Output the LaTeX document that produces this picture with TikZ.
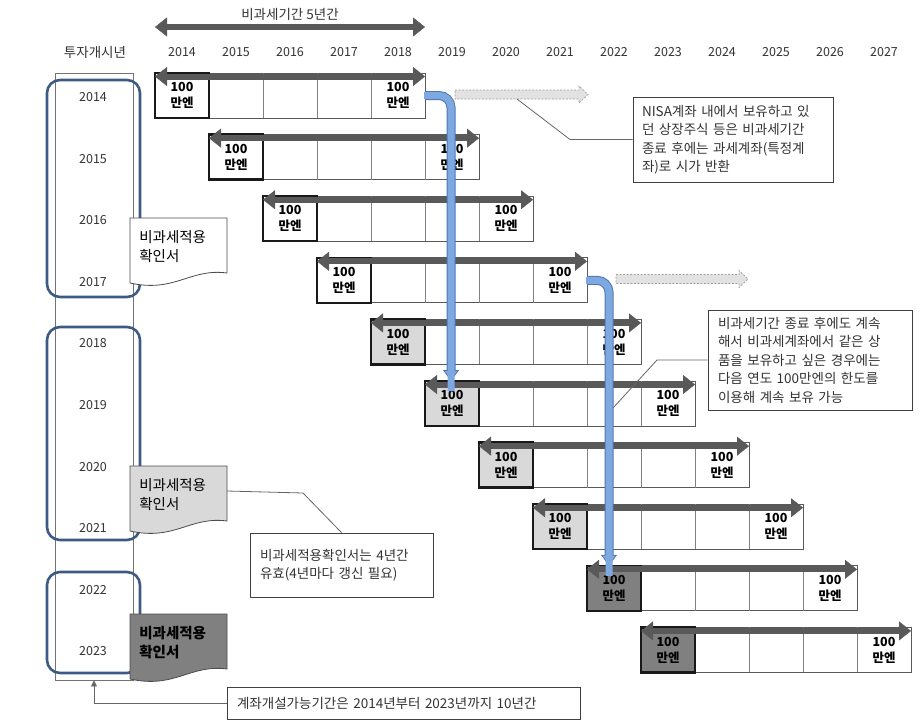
\documentclass[tikz,border=0pt]{standalone}
\usepackage{fontspec}
\setmainfont{Noto Sans CJK KR}
\usetikzlibrary{arrows.meta,calc}

\definecolor{arrowgray}{HTML}{595959}
\definecolor{cellgray}{HTML}{D9D9D9}
\definecolor{darkcell}{HTML}{808080}
\definecolor{bluefill}{RGB}{125,168,224}
\definecolor{blueedge}{RGB}{78,118,178}
\definecolor{groupblue}{RGB}{60,90,132}
\definecolor{dashfill}{HTML}{E2E2E2}
\definecolor{dashedge}{HTML}{A0A0A0}
\definecolor{txt}{HTML}{333333}

\newcommand{\jl}[2]{\makebox[#1][s]{#2}}

\tikzset{every picture/.style={line width=0.75pt}}

\begin{document}
\begin{tikzpicture}[x=1pt,y=1pt,yscale=-1,
  hd/.style={font=\fontsize{13.5}{15}\selectfont, text=txt, inner sep=0},
  yr/.style={font=\fontsize{12.5}{14}\selectfont, text=txt, inner sep=0},
  firstcell/.style={draw=black!90, line width=2.4pt, minimum width=54pt, minimum height=45pt, inner sep=0, outer sep=0, anchor=north west, align=center, font=\bfseries\fontsize{12.5}{16}\selectfont},
  lastcell/.style={minimum width=54pt, minimum height=45pt, inner sep=0, outer sep=0, anchor=north west, align=center, font=\bfseries\fontsize{12.5}{16}\selectfont},
  rowline/.style={draw=black!65, line width=0.9pt},
  cellline/.style={draw=black!50, line width=0.8pt},
  yarrow/.style={arrowgray, line width=6pt, {Triangle[length=12pt,width=19pt,line width=0.4pt]}-{Triangle[length=12pt,width=19pt,line width=0.4pt]}},
  group/.style={draw=groupblue, line width=2.6pt, rounded corners=13pt},
  colbox/.style={draw=black!55, line width=0.9pt, minimum width=78pt, minimum height=607pt, inner sep=0},
  callout/.style={draw=black!75, line width=0.9pt, fill=white, align=left, text=txt, font=\fontsize{13.5}{18.5}\selectfont, inner xsep=10pt, inner ysep=3pt},
  leader/.style={draw=black!60, line width=0.8pt},
  docshape/.style={draw=black!70, line width=0.8pt},
  doctext/.style={font=\fontsize{14.5}{19}\selectfont, align=left, anchor=west, inner sep=0},
  dasharrow/.style={fill=dashfill, draw=dashedge, dash pattern=on 2pt off 1.5pt, line width=0.7pt},
  bluebody/.style={blueedge, line width=9pt, rounded corners=12pt, -{Triangle[length=11pt,width=16pt,line width=0.8pt,fill=bluefill]}},
  bluecore/.style={bluefill, line width=7pt, rounded corners=12pt}]
\path[use as bounding box] (0,0) rectangle (920,721);

% Header
\node[hd] (ttl) at (290,14) {비과세기간 5년간};
\coordinate (ha) at (155,27);
\coordinate (hb) at (425,27);
\draw[yarrow] (ha) -- (hb);
\node[hd] (inv) at (95,52) {투자개시년};
\foreach \i in {0,...,13}{
  \pgfmathtruncatemacro\yy{2014+\i}
  \node[yr] (y\i) at ({182+54*\i},52) {\yy};
}

% Left column of start years
\node[colbox] (col) at (94,376.5) {};
\foreach \i in {0,...,9}{
  \pgfmathtruncatemacro\yy{2014+\i}
  \node[yr] (ly\i) at (93,{97+61.6*\i}) {\yy};
}
\draw[group] (47,80) rectangle (140,297);
\draw[group] (47,327) rectangle (140,540);
\draw[group] (47,572) rectangle (140,673);

% Documents
\foreach \i/\ty/\fc/\ft in {1/218/white/, 2/466/cellgray/, 3/614/darkcell/\bfseries}{
  \filldraw[docshape, fill=\fc] (130,\ty) -- (227,\ty) -- (227,{\ty+55})
    .. controls (190,{\ty+50}) and (175,{\ty+75}) .. (130,{\ty+65}) -- cycle;
  \node[doctext] (d\i) at (139,{\ty+29}) {\ft 비과세적용\\\ft 확인서};
}

% Rows
\foreach \k/\fc in {0/white,1/white,2/white,3/white,4/cellgray,5/cellgray,6/cellgray,7/cellgray,8/darkcell,9/darkcell}{
  \pgfmathsetmacro\xk{155+54*\k}
  \pgfmathsetmacro\yk{73+61.6*\k}
  \coordinate (o\k) at (\xk,\yk);
  \draw[rowline, fill=white] (o\k) rectangle ++(270,45);
  \foreach \c in {108,162,216}
    \draw[cellline] ([xshift=\c pt]o\k) -- ++(0,45);
  \node[firstcell, fill=\fc] (f\k) at (o\k) {\rule{0pt}{6pt}100\\만엔};
  \node[lastcell] (l\k) at ([xshift=216pt]o\k) {\rule{0pt}{6pt}100\\만엔};
  \draw[yarrow] ([yshift=3.5pt]f\k.north west) -- ([yshift=3.5pt]l\k.north east);
}

% Dashed arrows
\foreach \xa/\xb/\yc in {455/588/94.5, 616/748/279}{
  \filldraw[dasharrow] (\xa,{\yc-4.5}) -- ({\xb-9},{\yc-4.5}) -- ({\xb-9},{\yc-8.5}) -- (\xb,\yc)
    -- ({\xb-9},{\yc+8.5}) -- ({\xb-9},{\yc+4.5}) -- (\xa,{\yc+4.5}) -- cycle;
}

% Callouts
\node[callout, text width=182pt, inner xsep=9pt, minimum height=85pt] (c1) at (733,139.5)
  {\jl{182pt}{NISA계좌 내에서 보유하고 있}\\\jl{182pt}{던 상장주식 등은 비과세기간}\\\jl{182pt}{종료 후에는 과세계좌(특정계}\\좌)로 시가 반환};
\node[callout, text width=184pt, minimum height=100pt] (c2) at (810,360)
  {\jl{184pt}{비과세기간 종료 후에도 계속}\\\jl{184pt}{해서 비과세계좌에서 같은 상}\\\jl{184pt}{품을 보유하고 싶은 경우에는}\\\jl{184pt}{다음 연도 100만엔의 한도를}\\이용해 계속 보유 가능};
\node[callout, text width=163pt, minimum height=64pt] (c3) at (341.5,565)
  {비과세적용확인서는 4년간\\유효(4년마다 갱신 필요)};
\node[callout, text width=333pt, minimum height=32pt] (c4) at (403.5,703)
  {계좌개설가능기간은 2014년부터 2023년까지 10년간};

% Leaders
\coordinate (c1k) at (570,139.5);
\coordinate (c1e) at (517,99);
\draw[leader] (c1.west) -- (c1k) -- (c1e);
\coordinate (c2k) at (657,360);
\coordinate (c2e) at (613,408);
\draw[leader] (c2.west) -- (c2k) -- (c2e);
\coordinate (d2e) at (227,491);
\coordinate (c3k) at (303,493);
\draw[leader] (d2e) -- (c3k) -- (c3.north);
\draw[leader, -{Triangle[length=6pt,width=6pt]}] (c4.west) -| (col.south);

% Carry-over connectors
\draw[bluebody] (l0.east) -| ([xshift=-1pt]f5.north);
\draw[bluecore] ([xshift=-1pt]l0.east) -| ([xshift=-1pt,yshift=10pt]f5.north);
\draw[bluebody] (l3.east) -| ([xshift=-5pt]f8.north);
\draw[bluecore] ([xshift=-1pt]l3.east) -| ([xshift=-5pt,yshift=10pt]f8.north);

\end{tikzpicture}
\end{document}
